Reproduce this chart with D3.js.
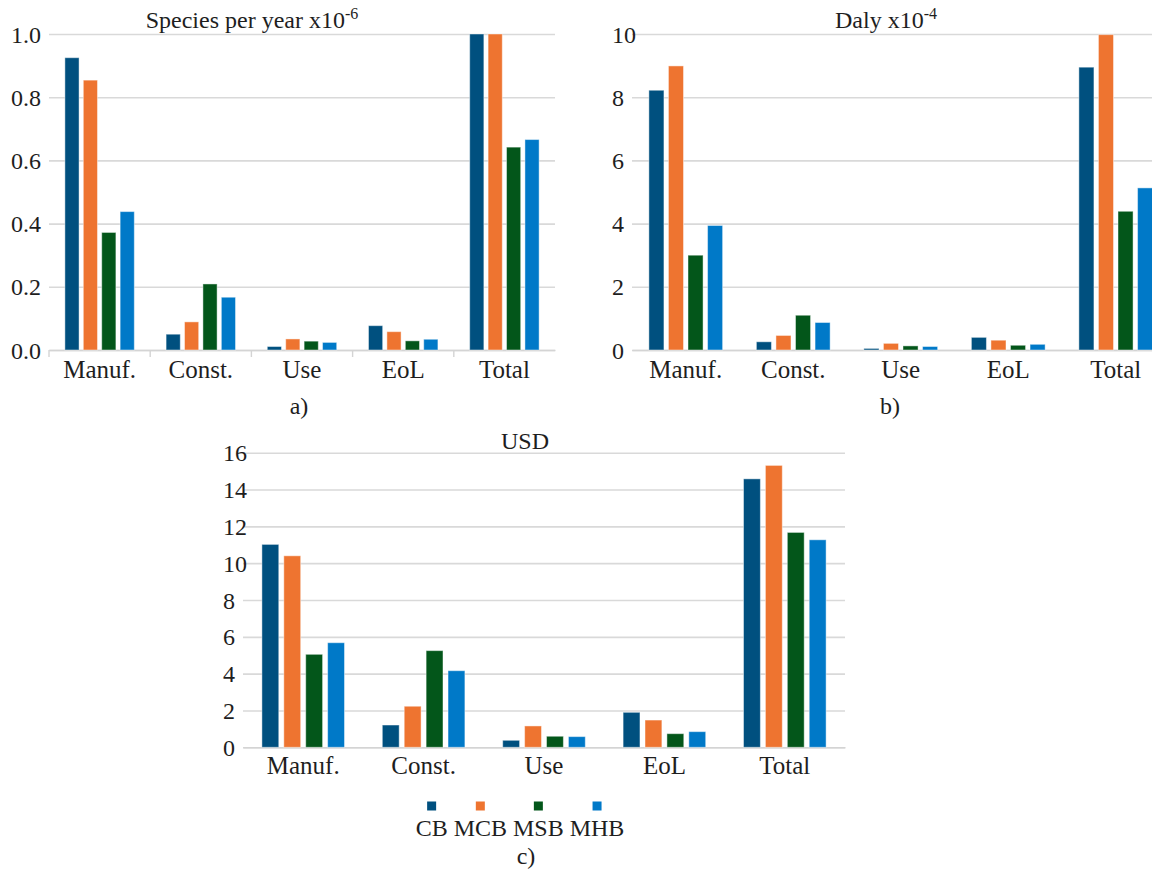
<!DOCTYPE html>
<html>
<head>
<meta charset="utf-8">
<script src="https://cdn.jsdelivr.net/npm/d3@7"></script>
<style>
	body { margin: 0; background: #fff; }
	svg text { font-family: "Liberation Serif", Tinos, "Times New Roman", "DejaVu Serif", serif !important; }
</style>
</head>
<body>
<script>
const categories = ["Manuf.", "Const.", "Use", "EoL", "Total"];
const seriesNames = ["CB", "MCB", "MSB", "MHB"];
const colors = ["#00507f", "#ee7430", "#03561a", "#0079c8"];

// a) Species per year x10-6
const speciesCB  = [0.925, 0.050, 0.011, 0.077, 1.063];
const speciesMCB = [0.854, 0.089, 0.035, 0.058, 1.036];
const speciesMSB = [0.372, 0.209, 0.028, 0.029, 0.642];
const speciesMHB = [0.438, 0.167, 0.024, 0.034, 0.666];
const speciesTicks = [0, 0.2, 0.4, 0.6, 0.8, 1.0];

// b) Daly x10-4
const dalyCB  = [8.22, 0.26, 0.05, 0.40, 8.95];
const dalyMCB = [8.99, 0.46, 0.21, 0.31, 9.98];
const dalyMSB = [3.00, 1.10, 0.13, 0.15, 4.39];
const dalyMHB = [3.94, 0.87, 0.11, 0.18, 5.13];
const dalyTicks = [0, 2, 4, 6, 8, 10];

// c) USD
const usdCB  = [11.02, 1.21, 0.38, 1.90, 14.58];
const usdMCB = [10.40, 2.23, 1.16, 1.48, 15.31];
const usdMSB = [5.05, 5.25, 0.60, 0.74, 11.67];
const usdMHB = [5.68, 4.16, 0.58, 0.85, 11.27];
const usdTicks = [0, 2, 4, 6, 8, 10, 12, 14, 16];

const svg = d3.select("body").append("svg")
	.attr("width", 1152)
	.attr("height", 873);

function drawPanel(cfg){
	const g = svg.append("g");

	const x = d3.scaleBand()
		.domain(categories)
		.range([cfg.x0, cfg.x1]);
	const bw = x.bandwidth();
	const xs = d3.scaleBand()
		.domain(seriesNames)
		.range([bw*0.157, bw*0.843])
		.paddingInner(0.23);
	const y = d3.scaleLinear()
		.domain([0, cfg.max])
		.range([cfg.yBase, cfg.yTop])
		.clamp(true);

	// gridlines + tick labels
	const yAxis = g.append("g")
		.attr("transform", `translate(${cfg.x0},0)`)
		.call(d3.axisLeft(y).tickValues(cfg.ticks).tickFormat(cfg.fmt).tickSize(-(cfg.x1-cfg.x0)).tickPadding(0));
	yAxis.attr("font-family", null);
	yAxis.select(".domain").remove();
	yAxis.selectAll(".tick line")
		.attr("stroke", "#d9d9d9")
		.attr("stroke-width", 1.6);
	yAxis.selectAll(".tick text")
		.attr("text-anchor", "start")
		.attr("x", cfg.labelX - cfg.x0)
		.attr("dy", "0.34em")
		.style("font-size", "24px")
		.attr("fill", "#1e1e1e");

	// category labels
	const xAxis = g.append("g")
		.attr("transform", `translate(0,${cfg.yBase})`)
		.call(d3.axisBottom(x).tickSize(0).tickPadding(0));
	xAxis.attr("font-family", null);
	xAxis.select(".domain")
		.attr("stroke", "#d4d4d4")
		.attr("stroke-width", 1.6);
	xAxis.selectAll(".tick text")
		.attr("y", cfg.catY - cfg.yBase)
		.attr("dy", 0)
		.style("font-size", "25px")
		.attr("fill", "#1e1e1e");

	if(cfg.boundaryTicks){
		g.selectAll(".bt")
			.data(categories)
			.enter().append("line")
			.attr("class", "bt")
			.attr("x1", d => x(d))
			.attr("x2", d => x(d))
			.attr("y1", cfg.yBase)
			.attr("y2", cfg.yBase + 7)
			.attr("stroke", "#d4d4d4")
			.attr("stroke-width", 1.4);
	}

	// bars
	const groups = g.selectAll(".cat")
		.data(categories)
		.enter().append("g")
		.attr("class", "cat")
		.attr("transform", d => `translate(${x(d)},0)`);

	groups.selectAll("rect")
		.data((c, i) => seriesNames.map((s, k) => ({s, k, v: cfg.values[k][i]})))
		.enter().append("rect")
		.attr("x", d => xs(d.s))
		.attr("width", xs.bandwidth())
		.attr("y", d => y(d.v))
		.attr("height", d => cfg.yBase - y(d.v))
		.attr("fill", d => colors[d.k])
		.attr("stroke", "#fff")
		.attr("stroke-opacity", 0.45)
		.attr("stroke-width", 1);

	// title
	const title = g.append("text")
		.attr("x", cfg.titleX)
		.attr("y", cfg.titleY)
		.attr("text-anchor", "middle")
		.style("font-size", "24px")
		.attr("fill", "#1e1e1e")
		.text(cfg.title);
	if(cfg.sup){
		title.append("tspan")
			.attr("dy", -9)
			.style("font-size", "16px")
			.text(cfg.sup);
	}

	// caption
	g.append("text")
		.attr("x", cfg.capX)
		.attr("y", cfg.capY)
		.attr("text-anchor", "middle")
		.style("font-size", "24px")
		.attr("fill", "#1e1e1e")
		.text(cfg.caption);
}

drawPanel({
	x0: 49, x1: 555, yBase: 350, yTop: 34, max: 1.0,
	ticks: speciesTicks, fmt: d3.format(".1f"), labelX: 11,
	values: [speciesCB, speciesMCB, speciesMSB, speciesMHB],
	catY: 378, boundaryTicks: true,
	title: "Species per year x10", sup: "-6", titleX: 252, titleY: 28,
	caption: "a)", capX: 299, capY: 414
});

drawPanel({
	x0: 632, x1: 1169.5, yBase: 350, yTop: 34, max: 10,
	ticks: dalyTicks, fmt: d3.format("d"), labelX: 612,
	values: [dalyCB, dalyMCB, dalyMSB, dalyMHB],
	catY: 378, boundaryTicks: false,
	title: "Daly x10", sup: "-4", titleX: 886, titleY: 28,
	caption: "b)", capX: 890, capY: 414
});

drawPanel({
	x0: 243, x1: 845, yBase: 747.3, yTop: 452.7, max: 16,
	ticks: usdTicks, fmt: d3.format("d"), labelX: 223,
	values: [usdCB, usdMCB, usdMSB, usdMHB],
	catY: 774, boundaryTicks: false,
	title: "USD", sup: null, titleX: 525, titleY: 449,
	caption: "c)", capX: 526, capY: 864
});

// legend: one line of names, a swatch centred above each word
const legendText = svg.append("text")
	.attr("x", 520)
	.attr("y", 836)
	.attr("text-anchor", "middle")
	.style("font-size", "24px")
	.attr("fill", "#1e1e1e")
	.text(seriesNames.join(" "));

const node = legendText.node();
const full = node.getComputedTextLength();
const startX = 520 - full/2;
let pos = 0;
seriesNames.forEach((s, k) => {
	const wWord = node.getSubStringLength(pos, s.length);
	const before = pos === 0 ? 0 : node.getSubStringLength(0, pos);
	const cx = startX + before + wWord/2;
	svg.append("rect")
		.attr("x", cx - 4.5)
		.attr("y", 801.5)
		.attr("width", 9)
		.attr("height", 9)
		.attr("fill", colors[k]);
	pos += s.length + 1;
});
</script>
</body>
</html>
